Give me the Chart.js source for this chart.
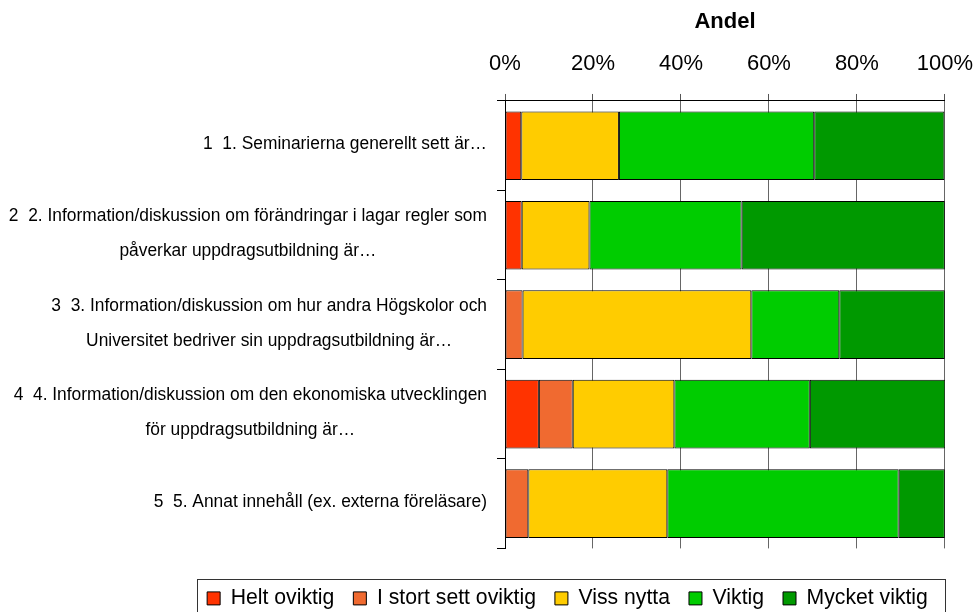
<!DOCTYPE html>
<html>
<head>
<meta charset="utf-8">
<script src="https://cdn.jsdelivr.net/npm/chart.js@4.4.1/dist/chart.umd.min.js"></script>
<style>
  body { margin: 0; background: #fff; }
  #wrap { width: 976px; height: 612px; }
</style>
</head>
<body>
<div id="wrap"><canvas id="myChart"></canvas></div>
<script>
  const categories = [
    ['1  1. Seminarierna generellt sett är…'],
    ['2  2. Information/diskussion om förändringar i lagar regler som', 'påverkar uppdragsutbildning är…'],
    ['3  3. Information/diskussion om hur andra Högskolor och', 'Universitet bedriver sin uppdragsutbildning är…'],
    ['4  4. Information/diskussion om den ekonomiska utvecklingen', 'för uppdragsutbildning är…'],
    ['5  5. Annat innehåll (ex. externa föreläsare)']
  ];

  const seriesNames = ['Helt oviktig', 'I stort sett oviktig', 'Viss nytta', 'Viktig', 'Mycket viktig'];
  const seriesColors = ['#FF3300', '#F06A30', '#FFCC00', '#00CC00', '#009900'];

  // andel i procent per fråga
  const heltOviktig     = [3.7, 3.8, 0, 7.7, 0];
  const iStortOviktig   = [0, 0, 4, 7.7, 5.3];
  const vissNytta       = [22.2, 15.4, 52, 23.1, 31.6];
  const viktig          = [44.4, 34.6, 20, 30.8, 52.6];
  const mycketViktig    = [29.6, 46.2, 24, 30.8, 10.5];

  const xTicks = [0, 20, 40, 60, 80, 100];

  const seriesValues = [heltOviktig, iStortOviktig, vissNytta, viktig, mycketViktig];

  const FONT = "'Liberation Sans', Arial, sans-serif";
  const PAD_LEFT = 159; // legenden centreras mellan denna marginal och högerkanten

  // kategorietiketter: lite hoptryckt text, centrerade rader i ett högerställt block
  const yLabels = {
    id: 'yLabels',
    afterDraw(chart) {
      const ctx = chart.ctx;
      const ys = chart.scales.y;
      const sx = 0.93;
      const lineH = 35;
      const rightEdge = ys.right - 18;
      ctx.save();
      ctx.font = '18.7px ' + FONT;
      ctx.fillStyle = '#000';
      ctx.textAlign = 'center';
      ctx.textBaseline = 'middle';
      categories.forEach((lines, i) => {
        const yc = ys.getPixelForTick(i) - 1.5;
        const w = Math.max(...lines.map(l => ctx.measureText(l).width)) * sx;
        const xc = rightEdge - w / 2;
        lines.forEach((l, k) => {
          ctx.save();
          ctx.translate(xc, yc + (k - (lines.length - 1) / 2) * lineH);
          ctx.scale(sx, 1);
          ctx.fillText(l, 0, 0);
          ctx.restore();
        });
      });
      ctx.restore();
    }
  };

  // ram runt legenden
  const legendBox = {
    id: 'legendBox',
    afterDraw(chart) {
      const boxes = chart.legend.legendHitBoxes;
      if (!boxes || !boxes.length) return;
      const left = Math.min(...boxes.map(b => b.left)) - 10;
      const right = Math.max(...boxes.map(b => b.left + b.width)) + 17;
      const top = Math.min(...boxes.map(b => b.top)) - 9;
      const ctx = chart.ctx;
      ctx.save();
      ctx.strokeStyle = '#333';
      ctx.lineWidth = 1;
      ctx.strokeRect(Math.round(left) + 0.5, Math.round(top) + 0.5, Math.round(right - left), 60);
      ctx.restore();
    }
  };

  const data = {
    labels: categories,
    datasets: seriesNames.map((name, i) => ({
      label: name,
      data: seriesValues[i],
      backgroundColor: seriesColors[i],
      borderColor: '#000',
      borderWidth: 1,
      borderSkipped: false,
      barPercentage: 0.767,
      categoryPercentage: 1
    }))
  };

  const config = {
    type: 'bar',
    data: data,
    options: {
      indexAxis: 'y',
      responsive: true,
      maintainAspectRatio: false,
      animation: false,
      layout: { padding: { top: 0, right: 0, bottom: -7, left: PAD_LEFT } },
      plugins: {
        legend: {
          position: 'bottom',
          align: 'center',
          title: {
            display: true,
            text: ' ',
            color: 'rgba(0,0,0,0)',
            font: { size: 20.4, lineHeight: 1 },
            padding: 0
          },
          labels: {
            font: { family: FONT, size: 21.2 },
            color: '#000',
            boxWidth: 13,
            boxHeight: 13,
            padding: 19
          }
        },
        tooltip: { enabled: false }
      },
      scales: {
        x: {
          position: 'top',
          stacked: true,
          min: 0,
          max: 100,
          afterBuildTicks: (s) => { s.ticks = xTicks.map(v => ({ value: v })); },
          ticks: {
            callback: (v) => v + '%',
            font: { family: FONT, size: 22, lineHeight: 2.49 },
            color: '#000',
            padding: 3
          },
          grid: { color: '#666', tickColor: '#555', tickLength: 7 },
          border: { color: '#000', width: 1 },
          title: {
            display: true,
            text: 'Andel',
            font: { family: FONT, size: 22, weight: 'bold' },
            color: '#000',
            padding: { top: 8.8, bottom: -2 }
          }
        },
        y: {
          stacked: true,
          afterFit: (s) => { s.width = 505 - PAD_LEFT; },
          ticks: { display: false },
          grid: {
            offset: true,
            drawTicks: true,
            tickLength: 8,
            tickColor: '#000',
            color: (c) => c.index === categories.length ? '#808080' : 'rgba(0,0,0,0)'
          },
          border: { color: '#000', width: 1 }
        }
      }
    },
    plugins: [yLabels, legendBox]
  };

  const myChart = new Chart(document.getElementById('myChart'), config);
</script>
</body>
</html>
